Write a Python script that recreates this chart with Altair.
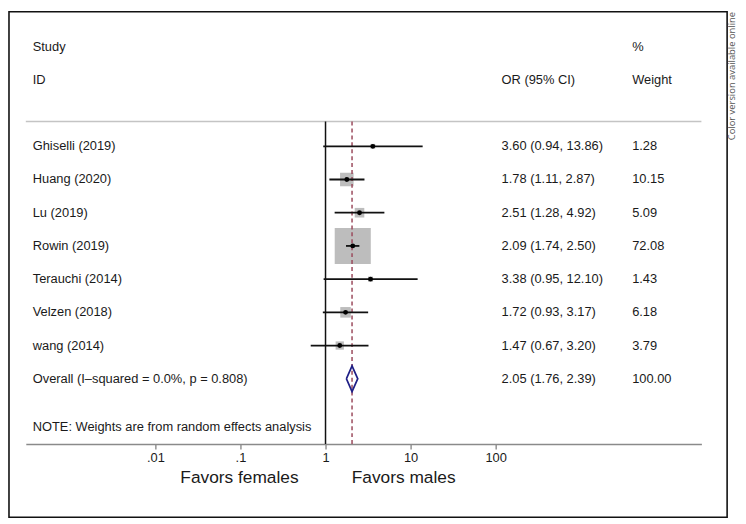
import math
import altair as alt
import pandas as pd

# ---------------- data ----------------
studies = ["Ghiselli (2019)", "Huang (2020)", "Lu (2019)", "Rowin (2019)",
           "Terauchi (2014)", "Velzen (2018)", "wang (2014)"]
odds = [3.60, 1.78, 2.51, 2.09, 3.38, 1.72, 1.47]
ci_low = [0.94, 1.11, 1.28, 1.74, 0.95, 0.93, 0.67]
ci_high = [13.86, 2.87, 4.92, 2.50, 12.10, 3.17, 3.20]
weights = [1.28, 10.15, 5.09, 72.08, 1.43, 6.18, 3.79]

overall_label = "Overall  (I\u2013squared = 0.0%, p = 0.808)"
overall_or = 2.05
overall_low = 1.76
overall_high = 2.39
overall_weight = 100.00

null_value = 1
tick_values = [0.01, 0.1, 1, 10, 100]
tick_labels = [".01", ".1", "1", "10", "100"]

# ---------------- geometry (layout only) ----------------
W, H = 683, 326
PX_PER_DECADE = 86.0
ONE_AT = 303  # pixel of OR = 1 inside plot area
x_dom = [10 ** ((0 - ONE_AT) / PX_PER_DECADE), 10 ** ((W - ONE_AT) / PX_PER_DECADE)]
ROW_PX = 235 / 7.0
FIRST_ROW_Y = 25
y_dom = [1 - FIRST_ROW_Y / ROW_PX, 8 + (H - (FIRST_ROW_Y + 7 * ROW_PX)) / ROW_PX]

FONT = "Liberation Sans"

xscale = alt.Scale(type="log", domain=x_dom, nice=False)
yscale = alt.Scale(domain=y_dom, reverse=True, nice=False, zero=False)

labelexpr = " : ".join(
    f"datum.value == {v} ? '{l}'" for v, l in zip(tick_values, tick_labels)
) + " : datum.label"

xaxis = alt.Axis(values=tick_values, labelExpr=labelexpr, title=None, grid=False,
                 domain=True, domainColor="#8a8a8a", domainWidth=1.6,
                 ticks=True, tickColor="#777777", tickSize=5, tickWidth=1.2,
                 labelFont=FONT, labelFontSize=13, labelColor="#1a1a1a",
                 labelPadding=3, labelFlush=False, labelOverlap=False)

# ---------------- tables ----------------
n = len(studies)
rows = pd.DataFrame({
    "study": studies + [overall_label],
    "row": list(range(1, n + 2)),
    "or_text": [f"{o:.2f} ({l:.2f}, {h:.2f})" for o, l, h in zip(odds, ci_low, ci_high)]
               + [f"{overall_or:.2f} ({overall_low:.2f}, {overall_high:.2f})"],
    "w_text": [f"{w:.2f}" for w in weights] + [f"{overall_weight:.2f}"],
})
trials = pd.DataFrame({
    "row": list(range(1, n + 1)),
    "or": odds, "lo": ci_low, "hi": ci_high, "weight": weights,
})
half = 13 / ROW_PX
orow = n + 1
diamond = pd.DataFrame({
    "x": [overall_low, overall_or, overall_high, overall_or, overall_low],
    "y": [orow, orow - half, orow, orow + half, orow],
    "k": [0, 1, 2, 3, 4],
})
refs = pd.DataFrame({"v": [null_value]})
pooled = pd.DataFrame({"v": [overall_or]})
one = pd.DataFrame({"a": [0]})

Y = alt.Y("row:Q", scale=yscale, axis=None)

# ---------------- layers ----------------
frame = alt.Chart(one).mark_rect(fill="transparent", stroke="#111111", strokeWidth=1.6).encode(
    x=alt.value(-17), x2=alt.value(709), y=alt.value(-111), y2=alt.value(400))

top_rule = alt.Chart(one).mark_rule(color="#c4c4c4", strokeWidth=1.6).encode(
    x=alt.value(0), x2=alt.value(W), y=alt.value(0))

null_line = alt.Chart(refs).mark_rule(color="#111111", strokeWidth=1.5).encode(
    x=alt.X("v:Q", scale=xscale, axis=xaxis))

pooled_line = alt.Chart(pooled).mark_rule(color="#9b4a5c", strokeWidth=1.5,
                                          strokeDash=[4, 3]).encode(
    x=alt.X("v:Q", scale=xscale, axis=xaxis))

boxes = alt.Chart(trials).mark_square(color="#bdbdbd", opacity=1).encode(
    x=alt.X("or:Q", scale=xscale, axis=xaxis), y=Y,
    size=alt.Size("weight:Q", scale=alt.Scale(domain=[0, 72.08], range=[0, 1330]), legend=None))

cis = alt.Chart(trials).mark_rule(color="#111111", strokeWidth=1.8).encode(
    x=alt.X("lo:Q", scale=xscale, axis=xaxis), x2="hi:Q", y=Y)

dots = alt.Chart(trials).mark_circle(color="#000000", size=24, opacity=1).encode(
    x=alt.X("or:Q", scale=xscale, axis=xaxis), y=Y)

dia = alt.Chart(diamond).mark_line(color="#1f1f86", strokeWidth=1.8).encode(
    x=alt.X("x:Q", scale=xscale, axis=xaxis),
    y=alt.Y("y:Q", scale=yscale, axis=None), order="k:Q")

txt = dict(font=FONT, fontSize=13, color="#1a1a1a", baseline="middle", align="left")
names = alt.Chart(rows).mark_text(**txt).encode(x=alt.value(7), y=Y, text="study:N")
or_col = alt.Chart(rows).mark_text(**txt).encode(x=alt.value(481), y=Y, text="or_text:N")
w_col = alt.Chart(rows).mark_text(**txt).encode(x=alt.value(613), y=Y, text="w_text:N")


def label(s, x, y, **kw):
    opts = dict(txt)
    opts.update(kw)
    return alt.Chart(one).mark_text(**opts).encode(x=alt.value(x), y=alt.value(y), text=alt.value(s))


heads = [
    label("Study", 7, -75),
    label("ID", 7, -42),
    label("OR (95% CI)", 481, -42),
    label("%", 613, -75),
    label("Weight", 613, -42),
    label("NOTE: Weights are from random effects analysis", 7, 309),
    label("Favors females", 216, 360, fontSize=17.5, align="center"),
    label("Favors males", 382, 360, fontSize=17.5, align="center"),
    label("Color version available online", 714, -46, fontSize=9.5, align="center",
          angle=270, font="Open Sans", color="#555555"),
]

chart = alt.layer(
    frame, top_rule, boxes, null_line, pooled_line, cis, dots, dia,
    names, or_col, w_col, *heads
).properties(
    width=W, height=H,
    padding={"left": 18, "top": 112, "right": 37, "bottom": 76},
    autosize=alt.AutoSizeParams(type="none"),
).configure_view(stroke=None)

chart.save("out.html", embed_options={"renderer": "svg", "actions": False})
